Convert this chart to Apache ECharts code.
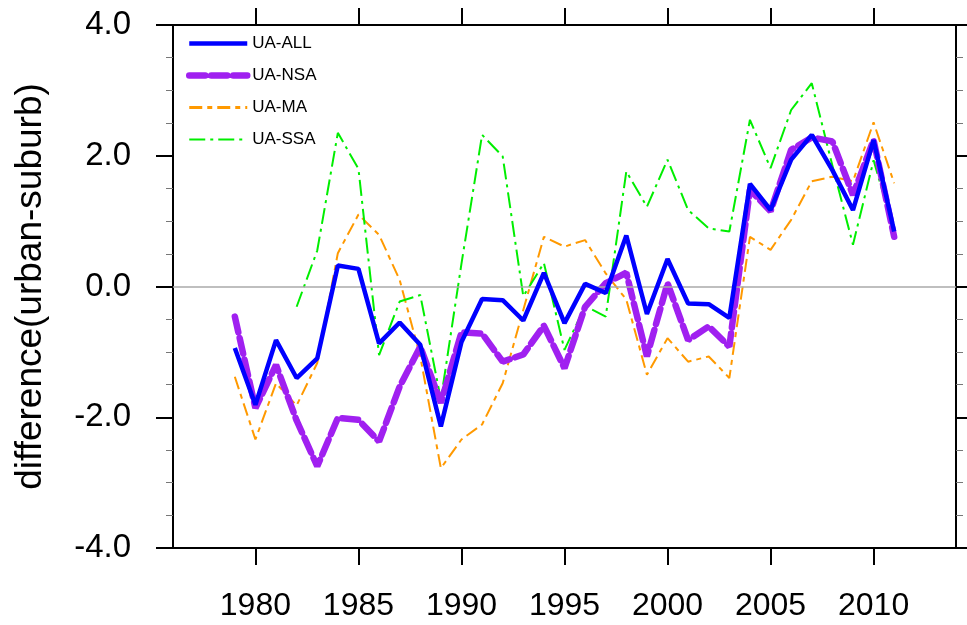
<!DOCTYPE html>
<html>
<head>
<meta charset="utf-8">
<script src="https://cdn.jsdelivr.net/npm/echarts@6/dist/echarts.min.js"></script>
<style>
  html, body { margin: 0; padding: 0; background: #fff; }
  #main { width: 967px; height: 625px; }
</style>
</head>
<body>
<div id="main"></div>
<script>
// data
var years = [1979, 1980, 1981, 1982, 1983, 1984, 1985, 1986, 1987, 1988, 1989,
  1990, 1991, 1992, 1993, 1994, 1995, 1996, 1997, 1998, 1999,
  2000, 2001, 2002, 2003, 2004, 2005, 2006, 2007, 2008, 2009, 2010, 2011];
var uaAll = [-0.94, -1.81, -0.82, -1.40, -1.10, 0.32, 0.27, -0.87, -0.55, -0.89, -2.14,
  -0.85, -0.19, -0.21, -0.52, 0.21, -0.56, 0.04, -0.10, 0.78, -0.42,
  0.42, -0.26, -0.27, -0.48, 1.57, 1.17, 1.94, 2.32, 1.78, 1.17, 2.24, 0.84];
var uaNsa = [-0.46, -1.86, -1.20, -2.05, -2.75, -2.01, -2.04, -2.37, -1.53, -0.92, -1.78,
  -0.70, -0.72, -1.15, -1.04, -0.60, -1.25, -0.31, 0.05, 0.21, -1.07,
  0.05, -0.82, -0.61, -0.92, 1.48, 1.15, 2.09, 2.28, 2.22, 1.40, 2.24, 0.76];
var uaMa = [-1.38, -2.34, -1.48, -1.82, -1.17, 0.51, 1.10, 0.79, 0.10, -1.07, -2.78,
  -2.34, -2.11, -1.48, -0.36, 0.76, 0.61, 0.71, 0.20, -0.20, -1.35,
  -0.79, -1.15, -1.07, -1.40, 0.76, 0.56, 1.02, 1.61, 1.68, 1.61, 2.51, 1.58];
var uaSsa = [null, null, null, -0.31, 0.55, 2.35, 1.80, -1.05, -0.23, -0.13, -1.73,
  0.35, 2.32, 1.99, -0.15, 0.36, -0.97, -0.30, -0.46, 1.76, 1.22,
  1.94, 1.17, 0.89, 0.84, 2.55, 1.81, 2.70, 3.11, 1.85, 0.64, 1.93, 0.85];
var xTicks = [1980, 1985, 1990, 1995, 2000, 2005, 2010];

function pairs(vals) {
  return years.map(function (y, i) { return [y, vals[i]]; });
}

var font = 'Liberation Sans, Arial, Helvetica, sans-serif';
var myChart = echarts.init(document.getElementById('main'));

var option = {
  backgroundColor: '#fff',
  animation: false,
  grid: { left: 173, right: 11, top: 25, bottom: 77, outerBoundsMode: 'none', containLabel: false },
  legend: {
    orient: 'vertical',
    left: 186,
    top: 35,
    padding: 0,
    itemWidth: 58,
    itemHeight: 10,
    itemGap: 15,
    itemStyle: { opacity: 0 },
    textStyle: { fontFamily: font, fontSize: 17, color: '#000' },
    data: [
      { name: 'UA-ALL', lineStyle: { width: 4.5 } },
      { name: 'UA-NSA', lineStyle: { width: 6.5 } },
      { name: 'UA-MA', lineStyle: { width: 3 } },
      { name: 'UA-SSA', lineStyle: { width: 2 } }
    ]
  },
  xAxis: [{
    type: 'value', min: 1976, max: 2014,
    axisLine: { onZero: false, lineStyle: { color: '#000', width: 2 } },
    axisTick: { length: 17, customValues: xTicks, lineStyle: { color: '#000', width: 2 } },
    axisLabel: {
      customValues: xTicks, fontFamily: font, fontSize: 32, color: '#000', margin: 42,
      formatter: function (v) { return String(v); }
    },
    splitLine: { show: false }
  }, {
    type: 'value', min: 1976, max: 2014, position: 'top',
    axisLine: { onZero: false, lineStyle: { color: '#000', width: 2 } },
    axisTick: { length: 17, customValues: xTicks, lineStyle: { color: '#000', width: 2 } },
    axisLabel: { show: false },
    splitLine: { show: false }
  }],
  yAxis: [{
    type: 'value', min: -4, max: 4, interval: 2,
    name: 'difference(urban-suburb)',
    nameLocation: 'middle',
    nameGap: 124,
    nameTextStyle: { fontFamily: font, fontSize: 37, color: '#000' },
    axisLine: { onZero: false, lineStyle: { color: '#000', width: 2 } },
    axisTick: { length: 17, lineStyle: { color: '#000', width: 2 } },
    minorTick: { show: true, splitNumber: 4, length: 7, lineStyle: { color: '#777', width: 1 } },
    axisLabel: {
      fontFamily: font, fontSize: 33, color: '#000', margin: 42,
      formatter: function (v) { return v.toFixed(1); }
    },
    splitLine: { show: false }
  }, {
    type: 'value', min: -4, max: 4, interval: 2, position: 'right',
    axisLine: { show: true, onZero: false, lineStyle: { color: '#000', width: 2 } },
    axisTick: { show: true, length: 17, lineStyle: { color: '#000', width: 2 } },
    minorTick: { show: true, splitNumber: 4, length: 7, lineStyle: { color: '#777', width: 1 } },
    axisLabel: { show: false },
    splitLine: { show: false }
  }],
  series: [{
    name: 'UA-MA', type: 'line', symbol: 'none', z: 2,
    data: pairs(uaMa),
    itemStyle: { color: '#ff9900' },
    lineStyle: { color: '#ff9900', width: 2, type: [13, 5, 5, 5] },
    markLine: {
      silent: true, symbol: 'none', label: { show: false },
      lineStyle: { color: '#aaaaaa', width: 1.5, type: 'solid' },
      data: [{ yAxis: 0 }]
    }
  }, {
    name: 'UA-SSA', type: 'line', symbol: 'none', z: 3,
    data: pairs(uaSsa),
    itemStyle: { color: '#00ee00' },
    lineStyle: { color: '#00ee00', width: 2, type: [16, 5, 3, 5] }
  }, {
    name: 'UA-NSA', type: 'line', symbol: 'none', z: 4,
    data: pairs(uaNsa),
    itemStyle: { color: '#a020f0' },
    lineStyle: { color: '#a020f0', width: 6.5, type: [16, 6], cap: 'round' }
  }, {
    name: 'UA-ALL', type: 'line', symbol: 'none', z: 5,
    data: pairs(uaAll),
    itemStyle: { color: '#0000ff' },
    lineStyle: { color: '#0000ff', width: 4.5 }
  }]
};

myChart.setOption(option);
</script>
</body>
</html>
